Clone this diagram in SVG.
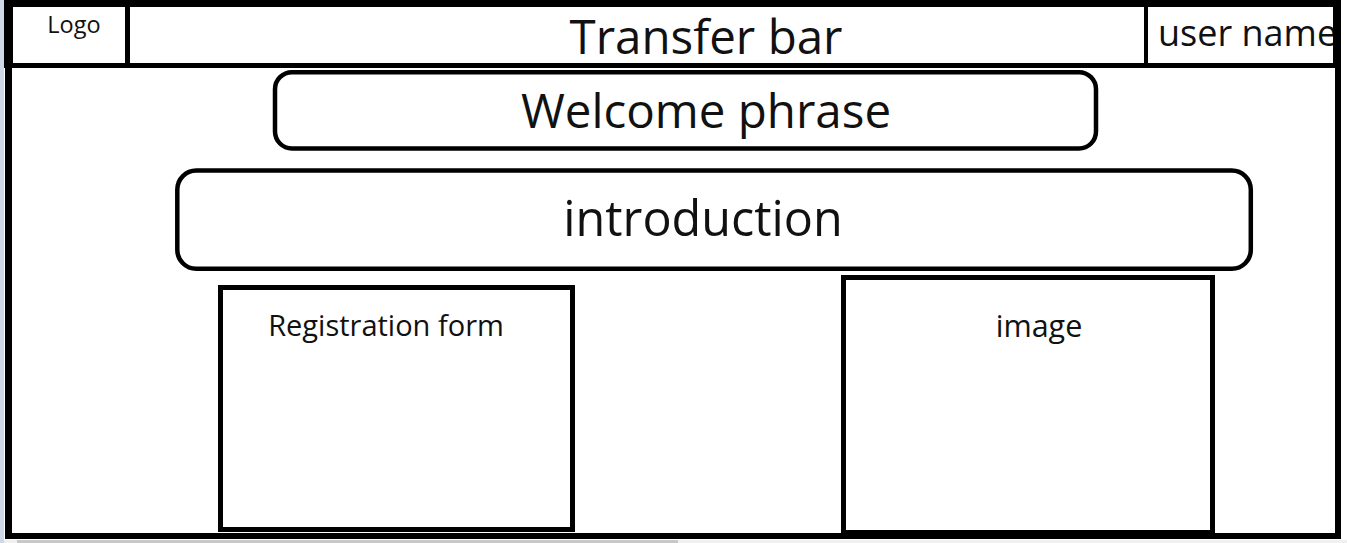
<svg xmlns="http://www.w3.org/2000/svg" width="1347" height="543" viewBox="0 0 1347 543">
  <style>
    .ink { fill: #000; }
    .box { fill: #fff; stroke: #000; stroke-width: 5; }
    .pill { fill: #fff; stroke: #000; stroke-width: 4.5; }
    text { font-family: "Open Sans", "Liberation Sans", sans-serif; fill: #111; }
    .big { font-size: 47.5px; }
    .mid { font-size: 29px; }
  </style>

  <!-- page background and window edges -->
  <rect x="0" y="0" width="1347" height="543" fill="#fff"/>
  <rect x="0" y="0" width="4" height="543" fill="#cfd8e6"/>
  <rect x="4" y="540" width="1343" height="3" fill="#f0f0f0"/>
  <rect x="17" y="540" width="661" height="3" fill="#c8c8c8"/>

  <!-- header bar -->
  <g id="header">
    <text x="74" y="33" text-anchor="middle" style="font-size:23.5px">Logo</text>
    <text x="706" y="54" text-anchor="middle" class="big">Transfer bar</text>
    <text x="1158" y="46" style="font-size:36px">user name</text>
  </g>

  <!-- page frame -->
  <g id="frame">
    <rect class="ink" x="4" y="0" width="1337" height="7"/>
    <rect class="ink" x="5" y="0" width="7" height="539"/>
    <rect class="ink" x="4" y="0" width="9" height="68"/>
    <rect class="ink" x="1335" y="0" width="6" height="539"/>
    <rect class="ink" x="1333" y="0" width="8" height="68"/>
    <rect class="ink" x="5" y="533" width="1336" height="6"/>
    <rect class="ink" x="5" y="63" width="1336" height="5"/>
    <rect class="ink" x="125" y="0" width="5" height="68"/>
    <rect class="ink" x="1144" y="0" width="4" height="68"/>
  </g>

  <g id="welcome">
    <rect class="pill" x="275" y="72.2" width="821" height="76.3" rx="17"/>
    <text x="706" y="128" text-anchor="middle" class="big">Welcome phrase</text>
  </g>

  <g id="introduction">
    <rect class="pill" x="177.3" y="170.5" width="1073.5" height="98.3" rx="19"/>
    <text x="703" y="236" text-anchor="middle" style="font-size:48.5px">introduction</text>
  </g>

  <g id="registration">
    <rect class="box" x="220.5" y="287.5" width="352" height="242"/>
    <text x="386" y="336" text-anchor="middle" class="mid">Registration form</text>
  </g>

  <g id="image">
    <rect class="box" x="843.5" y="277.5" width="369" height="255"/>
    <text x="1039" y="337" text-anchor="middle" style="font-size:30.5px">image</text>
  </g>
</svg>
